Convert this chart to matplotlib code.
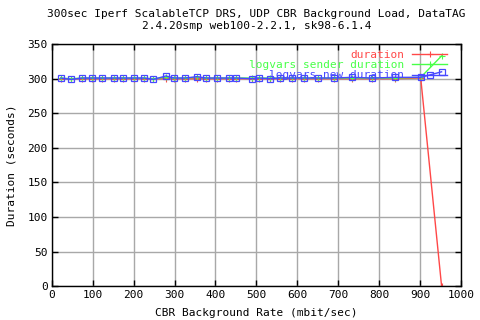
import matplotlib
matplotlib.use("Agg")
import matplotlib.pyplot as plt

rate = [22, 47, 74, 98, 123, 152, 175, 201, 226, 248, 279, 299, 326, 355, 377,
        405, 433, 451, 490, 507, 533, 558, 588, 616, 650, 689, 734, 782, 839, 902, 953]
duration = [300, 300, 300, 300, 300, 300, 300, 300, 300, 300, 300, 300, 300, 300, 300,
            300, 300, 300, 300, 300, 300, 300, 300, 300, 300, 300, 300, 300, 300, 301, 0]
sender = [301, 300, 301, 301, 301, 301, 301, 301, 301, 300, 302, 301, 301, 302, 301,
          301, 301, 301, 301, 301, 301, 301, 301, 301, 301, 301, 301, 301, 301, 302, 333]
newdur = [301, 299, 301, 301, 301, 301, 301, 301, 301, 299, 304, 301, 301, 303, 301,
          301, 301, 301, 300, 301, 300, 301, 301, 301, 301, 301, 302, 301, 302, 302, 310]

font = "DejaVu Sans Mono"
fs = 8

fig = plt.figure(figsize=(4.8, 3.2), dpi=100)
ax = fig.add_axes([0.108, 0.106, 0.852, 0.756])

ax.plot(rate, duration, color="#ff4848", lw=1, marker="+", ms=4, mew=0.8,
        label="duration")
ax.plot(rate, sender, color="#48ff48", lw=1, marker="+", ms=5, mew=0.8,
        label="logvars sender duration")
ax.plot(rate, newdur, color="#4848ff", lw=1, marker="s", ms=4, mfc="none", mew=0.9,
        label="logvars new duration")

ax.set_xlim(0, 1000)
ax.set_ylim(0, 350)
ax.set_xticks(range(0, 1001, 100))
ax.set_yticks(range(0, 351, 50))
ax.grid(True, color="#a8a8a8", lw=1)
ax.set_axisbelow(True)
ax.tick_params(direction="in", top=True, right=True, length=4, width=1,
               labelsize=fs, pad=3)
for lab in ax.get_xticklabels() + ax.get_yticklabels():
    lab.set_family(font)
for s in ax.spines.values():
    s.set_linewidth(1)

fig.text(0.5345, 1 - 313 / 320, "CBR Background Rate (mbit/sec)", family=font,
         fontsize=fs, ha="center", va="center")
ax.set_ylabel("Duration (seconds)", family=font, fontsize=fs, labelpad=8)
fig.text(0.5345, 1 - 14 / 320, "300sec Iperf ScalableTCP DRS, UDP CBR Background Load, DataTAG",
         family=font, fontsize=fs, ha="center", va="center")
fig.text(0.5345, 1 - 26 / 320, "2.4.20smp web100-2.2.1, sk98-6.1.4",
         family=font, fontsize=fs, ha="center", va="center")

leg = ax.legend(loc="upper right", bbox_to_anchor=(0.966, 0.977), frameon=False,
                markerfirst=False, handlelength=3.1, handletextpad=0.72,
                labelspacing=0.03, borderpad=0, borderaxespad=0, numpoints=1,
                prop={"family": font, "size": fs}, labelcolor="linecolor")

fig.savefig("out.png", dpi=100)
